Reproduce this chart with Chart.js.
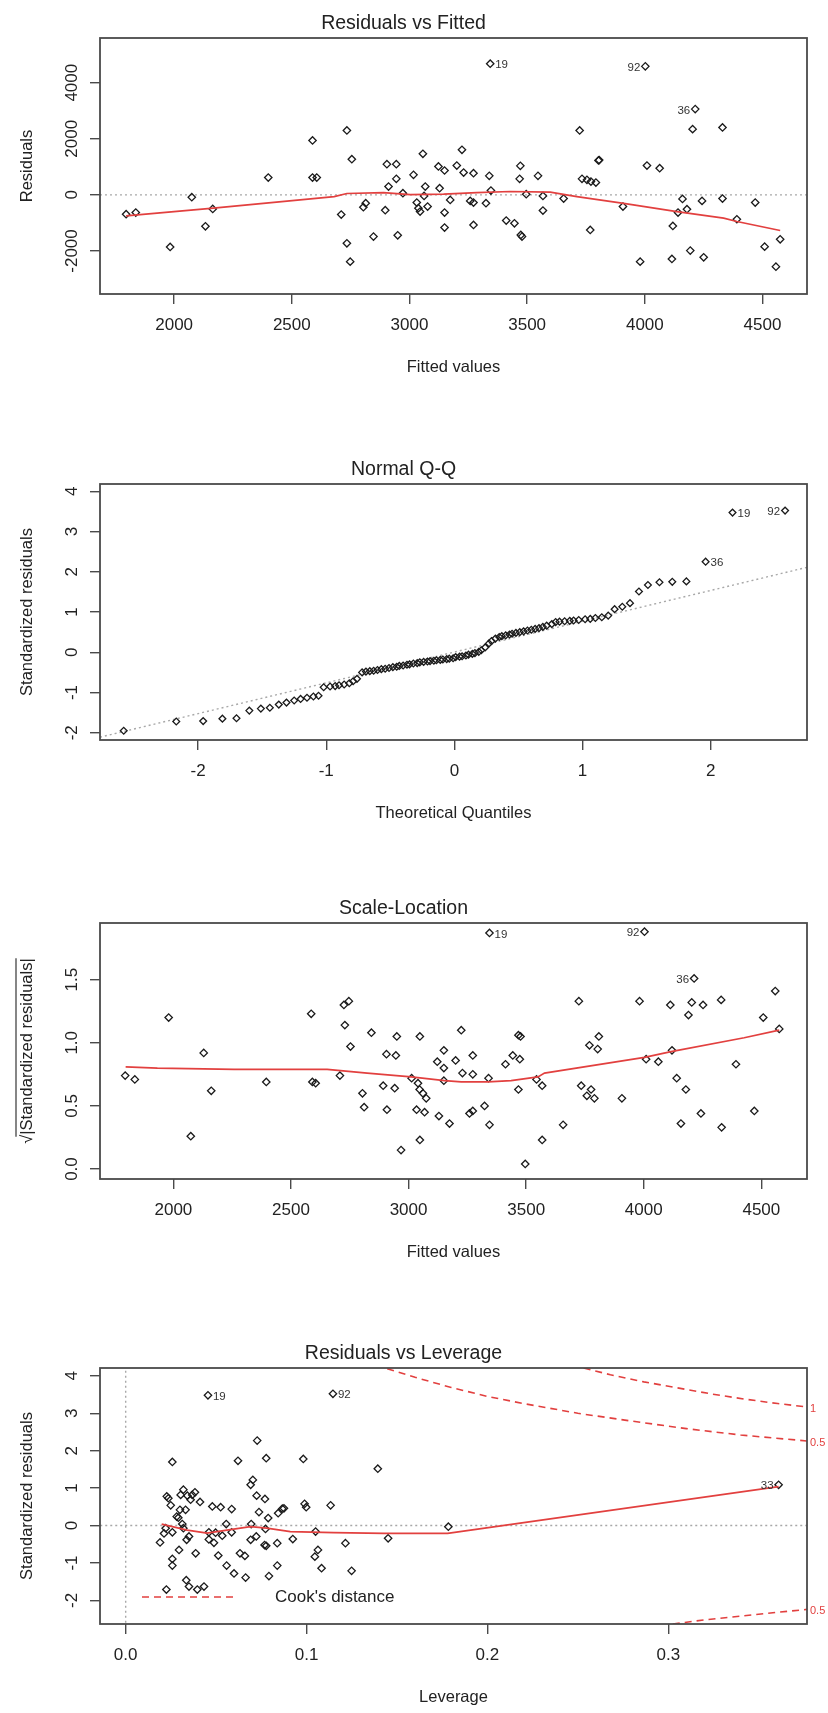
<!DOCTYPE html>
<html>
<head>
<meta charset="utf-8">
<title>lm diagnostic plots</title>
<script src="https://cdn.jsdelivr.net/npm/chart.js@4/dist/chart.umd.min.js"></script>
<style>
  html, body { margin: 0; padding: 0; background: #fff; }
  body { width: 828px; height: 1713px; position: relative; overflow: hidden; }
  .panel { position: absolute; left: 0; width: 828px; height: 383px; }
</style>
</head>
<body>
<div class="panel" style="top:0px"><canvas id="rvf"></canvas></div>
<div class="panel" style="top:446px"><canvas id="qq"></canvas></div>
<div class="panel" style="top:885px"><canvas id="sl"></canvas></div>
<div class="panel" style="top:1330px"><canvas id="rvl"></canvas></div>
<script>
'use strict';

// ── RESIDUALS VS FITTED ──
const rvfFitted = [1796, 1837, 1983, 2075, 2133, 2164, 2400, 2588, 2588, 2606, 2710, 2734, 2734, 2748, 2755,
  2804, 2814, 2847, 2897, 2904, 2911, 2944, 2944, 2950, 2972, 3017, 3031, 3038, 3045, 3057, 3062, 3067, 3077,
  3123, 3128, 3149, 3149, 3149, 3173, 3201, 3223, 3230, 3258, 3272, 3272, 3272, 3325, 3339, 3343, 3346, 3411,
  3446, 3468, 3471, 3473, 3478, 3496, 3546, 3567, 3567, 3655, 3723, 3733, 3754, 3768, 3771, 3792, 3803, 3806,
  3907, 3980, 4002, 4009, 4063, 4115, 4119, 4141, 4160, 4179, 4193, 4203, 4214, 4243, 4250, 4330, 4330, 4391,
  4469, 4509, 4557, 4575];
const rvfResid = [-690, -630, -1856, -83, -1119, -500, 619, 1940, 619, 619, -702, 2297, -1726, -2380, 1273,
  -440, -298, -1488, -547, 1095, 298, 1095, 571, -1440, 60, 714, -274, -476, -595, 1464, -36, 298, -417,
  1012, 238, 869, -631, -1166, -179, 1047, 1607, 797, -214, 774, -274, -1071, -298, 678, 4677, 155, -916,
  -1012, 571, 1035, -1428, -1488, 24, 678, -36, -559, -131, 2297, 571, 536, -1250, 476, 440, 1226, 1240,
  -417, -2380, 4582, 1047, 952, -2285, -1107, -631, -143, -512, -1987, 2344, 3058, -214, -2225, 2404, -131, -869,
  -274, -1845, -2559, -1583];
const rvfSmoothX = [1796, 2167, 2680, 2734, 2890, 3003, 3145, 3286, 3428, 3598, 3711, 3910, 4136, 4335, 4391, 4575];
const rvfSmoothY = [-750, -470, -60, 50, 80, 10, 30, 80, 120, 95, -60, -300, -595, -830, -950, -1270];
const rvfXTicks = [2000, 2500, 3000, 3500, 4000, 4500];
const rvfYTicks = [-2000, 0, 2000, 4000];
const rvfLabelText = ['19', '92', '36'];
const rvfLabelX = [3343, 4002, 4214];
const rvfLabelY = [4677, 4582, 3058];

// ── NORMAL Q-Q ──
const qqTheory = [-2.58, -2.17, -1.96, -1.81, -1.70, -1.60, -1.51, -1.44, -1.37, -1.31,
  -1.25, -1.20, -1.15, -1.10, -1.06, -1.02, -0.97, -0.93, -0.90, -0.86,
  -0.82, -0.79, -0.76, -0.72, -0.69, -0.66, -0.63, -0.60, -0.57, -0.54,
  -0.51, -0.48, -0.45, -0.43, -0.40, -0.37, -0.35, -0.32, -0.29, -0.27,
  -0.24, -0.21, -0.19, -0.16, -0.14, -0.11, -0.09, -0.06, -0.04, -0.01,
  0.01, 0.04, 0.06, 0.09, 0.11, 0.14, 0.16, 0.19, 0.21, 0.24,
  0.27, 0.29, 0.32, 0.35, 0.37, 0.40, 0.43, 0.45, 0.48, 0.51,
  0.54, 0.57, 0.60, 0.63, 0.66, 0.69, 0.72, 0.76, 0.79, 0.82,
  0.86, 0.90, 0.93, 0.97, 1.02, 1.06, 1.10, 1.15, 1.20, 1.25,
  1.31, 1.37, 1.44, 1.51, 1.60, 1.70, 1.81, 1.96, 2.17, 2.58];
const qqStdRes = [-1.95, -1.72, -1.71, -1.65, -1.64, -1.45, -1.40, -1.38, -1.30, -1.25,
  -1.20, -1.16, -1.13, -1.10, -1.08, -0.87, -0.85, -0.84, -0.82, -0.80,
  -0.77, -0.72, -0.66, -0.50, -0.48, -0.47, -0.46, -0.44, -0.42, -0.41,
  -0.39, -0.37, -0.36, -0.34, -0.33, -0.31, -0.30, -0.28, -0.27, -0.25,
  -0.24, -0.23, -0.22, -0.21, -0.20, -0.19, -0.18, -0.17, -0.16, -0.15,
  -0.12, -0.11, -0.10, -0.08, -0.06, -0.04, -0.02, 0.01, 0.05, 0.12,
  0.22, 0.28, 0.34, 0.38, 0.40, 0.42, 0.44, 0.46, 0.48, 0.50,
  0.52, 0.54, 0.56, 0.58, 0.60, 0.63, 0.66, 0.70, 0.75, 0.76,
  0.77, 0.78, 0.79, 0.80, 0.82, 0.83, 0.85, 0.87, 0.91, 1.07,
  1.13, 1.22, 1.51, 1.67, 1.74, 1.75, 1.76, 2.25, 3.47, 3.52];
const qqLineX = [-2.765, 2.751];
const qqLineY = [-2.11, 2.11];
const qqXTicks = [-2, -1, 0, 1, 2];
const qqYTicks = [-2, -1, 0, 1, 2, 3, 4];
const qqLabelText = ['19', '92', '36'];
const qqLabelX = [2.17, 2.58, 1.96];
const qqLabelY = [3.47, 3.52, 2.25];

// ── SCALE-LOCATION ──
const slFitted = [1795, 1836, 1980, 2074, 2129, 2161, 2395, 2586, 2591, 2605, 2708, 2725, 2729, 2746, 2753,
  2804, 2811, 2842, 2892, 2906, 2908, 2941, 2946, 2950, 2968, 3013, 3034, 3040, 3047, 3048, 3048, 3061, 3068,
  3075, 3122, 3129, 3150, 3150, 3150, 3174, 3200, 3224, 3229, 3259, 3273, 3273, 3273, 3323, 3340, 3344, 3344,
  3412, 3443, 3467, 3467, 3473, 3476, 3496, 3544, 3568, 3568, 3657, 3724, 3734, 3758, 3769, 3776, 3790, 3804,
  3809, 3907, 3982, 4003, 4010, 4062, 4113, 4120, 4140, 4158, 4179, 4190, 4204, 4214, 4243, 4252, 4329, 4331,
  4392, 4470, 4508, 4559, 4576];
const slRoot = [0.74, 0.71, 1.20, 0.26, 0.92, 0.62, 0.69, 1.23, 0.69, 0.68, 0.74, 1.30, 1.14, 1.33, 0.97,
  0.60, 0.49, 1.08, 0.66, 0.91, 0.47, 0.64, 0.90, 1.05, 0.15, 0.72, 0.47, 0.68, 0.63, 1.05, 0.23, 0.60, 0.45,
  0.56, 0.85, 0.42, 0.94, 0.80, 0.70, 0.36, 0.86, 1.10, 0.76, 0.44, 0.90, 0.75, 0.46, 0.50, 0.72, 0.35, 1.87,
  0.83, 0.90, 1.06, 0.63, 0.87, 1.05, 0.04, 0.71, 0.66, 0.23, 0.35, 1.33, 0.66, 0.58, 0.98, 0.63, 0.56, 0.95,
  1.05, 0.56, 1.33, 1.88, 0.87, 0.85, 1.30, 0.94, 0.72, 0.36, 0.63, 1.22, 1.32, 1.51, 0.44, 1.30, 1.34, 0.33,
  0.83, 0.46, 1.20, 1.41, 1.11];
const slSmoothX = [1797, 1932, 2258, 2654, 2824, 3011, 3153, 3224, 3337, 3436, 3550, 3578, 4003, 4116, 4427, 4576];
const slSmoothY = [0.81, 0.80, 0.79, 0.79, 0.76, 0.73, 0.70, 0.69, 0.69, 0.70, 0.73, 0.76, 0.885, 0.93, 1.04, 1.10];
const slYTicks = [0, 0.5, 1, 1.5];
const slLabelText = ['19', '92', '36'];
const slLabelX = [3344, 4003, 4214];
const slLabelY = [1.87, 1.88, 1.51];

// ── RESIDUALS VS LEVERAGE ──
const leverage = [0.0455, 0.1146, 0.0258, 0.0190, 0.0212, 0.0221, 0.0227, 0.0236, 0.0249, 0.0225, 0.0258,
  0.0258, 0.0258, 0.0282, 0.0291, 0.0300, 0.0295, 0.0304, 0.0319, 0.0313, 0.0319, 0.0331, 0.0341, 0.0335,
  0.0350, 0.0337, 0.0350, 0.0359, 0.0368, 0.0383, 0.0387, 0.0396, 0.0411, 0.0433, 0.0460, 0.0460, 0.0479,
  0.0488, 0.0497, 0.0512, 0.0525, 0.0534, 0.0556, 0.0558, 0.0586, 0.0586, 0.0599, 0.0621, 0.0632, 0.0659,
  0.0663, 0.0691, 0.0694, 0.0691, 0.0703, 0.0727, 0.0724, 0.0722, 0.0737, 0.0770, 0.0777, 0.0773, 0.0768,
  0.0777, 0.0788, 0.0792, 0.0838, 0.0843, 0.0838, 0.0866, 0.0875, 0.0924, 0.0982, 0.0989, 0.0998, 0.1050,
  0.1063, 0.1046, 0.1083, 0.1133, 0.1215, 0.1249, 0.1394, 0.1451, 0.1784, 0.3610];
const levStdRes = [3.48, 3.52, 1.70, -0.45, -0.21, -0.07, 0.78, 0.73, 0.54, -1.71, -0.89,
  -1.07, -0.18, 0.24, 0.21, 0.42, -0.65, 0.82, 0.96, 0.04, -0.07, 0.42, 0.80, -1.46,
  -1.63, -0.38, -0.29, 0.69, 0.82, 0.89, -0.74, -1.71, 0.63, -1.63, -0.37, -0.18, 0.51,
  -0.46, -0.19, -0.80, 0.49, -0.27, 0.04, -1.07, 0.44, -0.18, -1.28, 1.73, -0.74, -0.81,
  -1.39, -0.38, 0.04, 1.09, 1.22, 2.27, 0.80, -0.29, 0.36, 0.71, 1.80, -0.09, -0.52,
  -0.54, 0.20, -1.35, -0.47, 0.33, -1.07, 0.45, 0.46, -0.36, 1.78, 0.58, 0.49, -0.16,
  -0.65, -0.83, -1.14, 0.54, -0.47, -1.21, 1.52, -0.34, -0.03, 1.09];
const rvlSmoothX = [0.0199, 0.034, 0.045, 0.056, 0.069, 0.078, 0.091, 0.115, 0.143, 0.178, 0.361];
const rvlSmoothY = [0.04, -0.12, -0.20, -0.12, -0.03, -0.07, -0.16, -0.19, -0.21, -0.21, 1.04];
const cook1X = [0.2532, 0.2680, 0.2865, 0.3050, 0.3235, 0.3420, 0.3605, 0.3767];
const cook1Y = [4.21, 4.03, 3.84, 3.68, 3.52, 3.38, 3.26, 3.17];
const cookHalfX = [0.1446, 0.16, 0.18, 0.20, 0.22, 0.25, 0.28, 0.31, 0.34, 0.3767];
const cookHalfY = [4.19, 3.96, 3.69, 3.45, 3.26, 3.00, 2.79, 2.59, 2.42, 2.26];
const cookNegX = [0.3025, 0.32, 0.34, 0.36, 0.3767];
const cookNegY = [-2.63, -2.52, -2.42, -2.32, -2.24];
const cookLevels = ['1', '0.5', '0.5'];
const rvlXTicks = [0, 0.1, 0.2, 0.3];
const rvlYTicks = [-2, -1, 0, 1, 2, 3, 4];
const rvlLabelText = ['19', '92', '33'];
const rvlLabelX = [0.0455, 0.1146, 0.3610];
const rvlLabelY = [3.48, 3.52, 1.09];

// ── STYLE ──
const FONT = '"Liberation Sans", Arial, sans-serif';
const INK  = '#222222';
const BOX  = '#4a4a4a';
const RED  = '#e2403f';
const GREY = '#a8a8a8';

const pts = (xs, ys) => xs.map((x, i) => ({ x, y: ys[i] }));

function pointSet(xs, ys, r) {
  return {
    data: pts(xs, ys), showLine: false, pointStyle: 'rectRot', pointRadius: r || 3.7,
    pointBorderWidth: 1.3, pointBorderColor: '#1a1a1a', pointBackgroundColor: 'rgba(0,0,0,0)',
  };
}
function lineSet(xs, ys, color, dash, width) {
  return {
    data: pts(xs, ys), showLine: true, pointRadius: 0, borderColor: color,
    borderWidth: width || 1.7, borderDash: dash || [], tension: 0, fill: false,
  };
}

// ── DECORATION PLUGIN (box, rotated y labels, point ids, legend) ──
const rDecor = {
  id: 'rDecor',
  afterDraw(chart, args, o) {
    const { ctx, chartArea: a } = chart;
    const xs = chart.scales.x, ys = chart.scales.y;
    ctx.save();
    ctx.setLineDash([]);
    ctx.strokeStyle = BOX;
    ctx.lineWidth = 1.8;
    ctx.strokeRect(a.left, a.top, a.right - a.left, a.bottom - a.top);

    // y tick labels, vertical like R
    ctx.fillStyle = INK;
    ctx.font = '17px ' + FONT;
    ctx.textAlign = 'center';
    ctx.textBaseline = 'middle';
    ys.ticks.forEach(t => {
      ctx.save();
      ctx.translate(a.left - 28, ys.getPixelForValue(t.value));
      ctx.rotate(-Math.PI / 2);
      ctx.fillText(o.yFmt(t.value), 0, 0);
      ctx.restore();
    });

    // sqrt overline on the y title
    if (o.overline) {
      ctx.font = '16.5px ' + FONT;
      const full = ctx.measureText(o.overline).width;
      const root = ctx.measureText('√').width;
      const yc = (a.top + a.bottom) / 2;
      ctx.strokeStyle = INK;
      ctx.lineWidth = 1.1;
      ctx.beginPath();
      ctx.moveTo(16, yc + full / 2 - root + 2);
      ctx.lineTo(16, yc - full / 2);
      ctx.stroke();
    }

    // point ids
    ctx.fillStyle = '#333';
    ctx.font = '11.5px ' + FONT;
    (o.labels || []).forEach(l => {
      const px = xs.getPixelForValue(l.x), py = ys.getPixelForValue(l.y);
      ctx.textAlign = l.side === 'left' ? 'right' : 'left';
      ctx.fillText(l.text, px + (l.side === 'left' ? -5 : 5), py + 1.5);
    });

    // cook's distance levels + legend
    if (o.cook) {
      ctx.fillStyle = RED;
      ctx.font = '11px ' + FONT;
      ctx.textAlign = 'left';
      o.cook.forEach(c => ctx.fillText(c.text, a.right + 3, ys.getPixelForValue(c.y) + 2));

      const ly = a.bottom - 27;
      ctx.strokeStyle = RED;
      ctx.lineWidth = 1.6;
      ctx.setLineDash([7, 5]);
      ctx.beginPath();
      ctx.moveTo(a.left + 42, ly);
      ctx.lineTo(a.left + 134, ly);
      ctx.stroke();
      ctx.setLineDash([]);
      ctx.fillStyle = INK;
      ctx.font = '17px ' + FONT;
      ctx.fillText("Cook's distance", a.left + 175, ly);
    }
    ctx.restore();
  }
};

function fixedTicks(list) {
  return s => { s.ticks = list.map(v => ({ value: v })); };
}

function baseOptions(p) {
  const grid = { drawOnChartArea: false, drawTicks: true, tickLength: 10, color: BOX, lineWidth: 1.4 };
  return {
    responsive: true,
    maintainAspectRatio: false,
    animation: false,
    events: [],
    layout: { padding: { left: 0, right: 21, top: 0, bottom: 0 } },
    plugins: {
      legend: { display: false },
      tooltip: { enabled: false },
      title: {
        display: true, text: p.title, color: INK,
        font: { family: FONT, size: 19.5, weight: 'normal' },
        padding: { top: 11.5, bottom: 3.1 },
      },
      rDecor: p.decor,
    },
    scales: {
      x: {
        type: 'linear', min: p.xMin, max: p.xMax,
        afterBuildTicks: fixedTicks(p.xTicks),
        afterFit: s => { s.height = 89; },
        grid: grid, border: { display: false },
        ticks: {
          color: INK, font: { family: FONT, size: 17 }, padding: 11,
          maxRotation: 0, autoSkip: false, callback: p.xFmt || (v => String(v)),
        },
        title: {
          display: true, text: p.xTitle, color: INK,
          font: { family: FONT, size: 16.5 }, padding: { top: 0, bottom: 6 },
        },
      },
      y: {
        type: 'linear', min: p.yMin, max: p.yMax,
        afterBuildTicks: fixedTicks(p.yTicks),
        afterFit: s => { s.width = 100; },
        grid: grid, border: { display: false },
        ticks: { display: false },
        title: {
          display: true, text: p.yTitle, color: INK,
          font: { family: FONT, size: 16.5 }, padding: { top: 18, bottom: 0 },
        },
      },
    },
  };
}

function idLabels(texts, xs, ys, sides) {
  return texts.map((t, i) => ({ text: t, x: xs[i], y: ys[i], side: sides[i] }));
}

// ── PLOT 1 ──
new Chart(document.getElementById('rvf'), {
  type: 'scatter',
  data: { datasets: [
    lineSet(rvfSmoothX, rvfSmoothY, RED),
    pointSet(rvfFitted, rvfResid),
    lineSet([1600, 4800], [0, 0], GREY, [2, 3], 1.4),
  ] },
  options: baseOptions({
    title: 'Residuals vs Fitted', xTitle: 'Fitted values', yTitle: 'Residuals',
    xMin: 1685, xMax: 4689, yMin: -3534, yMax: 5593,
    xTicks: rvfXTicks, yTicks: rvfYTicks,
    decor: { yFmt: v => String(v), labels: idLabels(rvfLabelText, rvfLabelX, rvfLabelY, ['right', 'left', 'left']) },
  }),
  plugins: [rDecor],
});

// ── PLOT 2 ──
new Chart(document.getElementById('qq'), {
  type: 'scatter',
  data: { datasets: [
    pointSet(qqTheory, qqStdRes, 3.4),
    lineSet(qqLineX, qqLineY, GREY, [2, 3], 1.4),
  ] },
  options: baseOptions({
    title: 'Normal Q-Q', xTitle: 'Theoretical Quantiles', yTitle: 'Standardized residuals',
    xMin: -2.765, xMax: 2.751, yMin: -2.18, yMax: 4.18,
    xTicks: qqXTicks, yTicks: qqYTicks,
    decor: { yFmt: v => String(v), labels: idLabels(qqLabelText, qqLabelX, qqLabelY, ['right', 'left', 'right']) },
  }),
  plugins: [rDecor],
});

// ── PLOT 3 ──
const slTitle = '√|Standardized residuals|';
new Chart(document.getElementById('sl'), {
  type: 'scatter',
  data: { datasets: [
    lineSet(slSmoothX, slSmoothY, RED),
    pointSet(slFitted, slRoot),
  ] },
  options: baseOptions({
    title: 'Scale-Location', xTitle: 'Fitted values', yTitle: slTitle,
    xMin: 1688, xMax: 4694, yMin: -0.079, yMax: 1.949,
    xTicks: rvfXTicks, yTicks: slYTicks,
    decor: { yFmt: v => v.toFixed(1), overline: slTitle, labels: idLabels(slLabelText, slLabelX, slLabelY, ['right', 'left', 'left']) },
  }),
  plugins: [rDecor],
});

// ── PLOT 4 ──
new Chart(document.getElementById('rvl'), {
  type: 'scatter',
  data: { datasets: [
    lineSet(rvlSmoothX, rvlSmoothY, RED),
    pointSet(leverage, levStdRes),
    lineSet(cook1X, cook1Y, RED, [7, 5], 1.6),
    lineSet(cookHalfX, cookHalfY, RED, [7, 5], 1.6),
    lineSet(cookNegX, cookNegY, RED, [7, 5], 1.6),
    lineSet([-0.05, 0.4], [0, 0], GREY, [2, 3], 1.4),
    lineSet([0, 0], [-3, 5], GREY, [2, 3], 1.4),
  ] },
  options: baseOptions({
    title: 'Residuals vs Leverage', xTitle: 'Leverage', yTitle: 'Standardized residuals',
    xMin: -0.0142, xMax: 0.3767, yMin: -2.63, yMax: 4.21,
    xTicks: rvlXTicks, yTicks: rvlYTicks, xFmt: v => v.toFixed(1),
    decor: {
      yFmt: v => String(v),
      labels: idLabels(rvlLabelText, rvlLabelX, rvlLabelY, ['right', 'right', 'left']),
      cook: [
        { text: cookLevels[0], y: cook1Y[cook1Y.length - 1] },
        { text: cookLevels[1], y: cookHalfY[cookHalfY.length - 1] },
        { text: cookLevels[2], y: cookNegY[cookNegY.length - 1] },
      ],
    },
  }),
  plugins: [rDecor],
});
</script>
</body>
</html>
